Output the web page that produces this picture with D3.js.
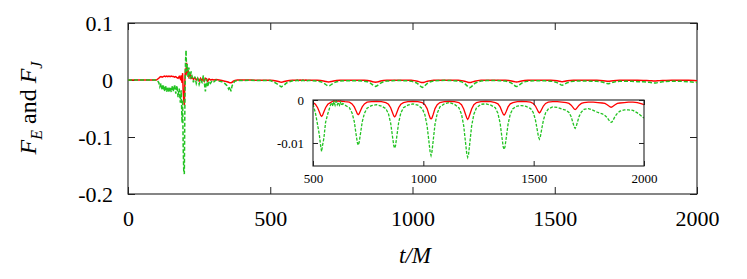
<!DOCTYPE html>
<html><head><meta charset="utf-8">
<script src="https://cdn.jsdelivr.net/npm/d3@7"></script>
<style>body{margin:0;background:#fff} svg{display:block}</style>
</head><body>
<svg id="chart" width="747" height="279"></svg>
<script>
// ---- data (t/M, F_E, F_J) ----
const times = [
  0, 50, 100, 108, 112, 116, 120, 124, 128, 132, 136, 140, 144, 148, 152, 156, 160, 164, 168, 172, 176, 180,
  184, 187, 190, 192, 194, 196, 198, 200, 202, 204, 206, 208, 211, 214, 218, 222, 226, 230,
  235, 240, 245, 250, 255, 260, 265, 268, 272, 276, 280, 285, 290, 296, 302, 310, 320, 330, 340, 348, 354, 358, 362, 366, 370, 376, 385, 400, 430, 460, 480,
  500, 511, 521, 529, 535, 539, 543, 549, 557, 567, 579, 585, 590, 595, 600, 605, 610, 615, 620, 625, 630, 635,
  645, 665, 677, 687, 695, 701, 705, 709, 715, 723, 733, 745, 765, 788,
  810, 830, 842, 852, 860, 866, 870, 874, 880, 888, 898, 910, 930, 952,
  975, 995, 1007, 1017, 1025, 1031, 1035, 1039, 1045, 1053, 1063, 1075, 1095, 1118,
  1141, 1161, 1173, 1183, 1191, 1197, 1201, 1205, 1211, 1219, 1229, 1241, 1261, 1284,
  1306, 1326, 1338, 1348, 1356, 1362, 1366, 1370, 1376, 1384, 1394, 1406, 1426, 1446,
  1466, 1486, 1498, 1508, 1516, 1522, 1526, 1530, 1536, 1544, 1554, 1566, 1586, 1607,
  1628, 1648, 1660, 1670, 1678, 1684, 1688, 1692, 1698, 1706, 1716, 1728, 1748, 1770,
  1791, 1811, 1823, 1833, 1841, 1847, 1851, 1855, 1861, 1869, 1879, 1891, 1911, 1930, 1950, 1970, 1990, 2000
];
const fluxE = [
  0, 0, 0, 0.003, 0.005, 0.006, 0.005, 0.006, 0.007, 0.006, 0.007, 0.006, 0.007, 0.006, 0.007, 0.006, 0.006, 0.005, 0.006, 0.004, 0.003, 0.006,
  0.002, 0.008, -0.005, 0.012, -0.020, -0.035, -0.044, 0.000, 0.020, 0.008, 0.030, 0.012, 0.018, 0.006, 0.010, 0.003, 0.005, 0.001,
  0.004, 0.000, 0.003, -0.002, 0.003, -0.001, 0.002, -0.002, 0.003, 0.002, -0.002, 0.002, 0.000, 0.001, 0.000, 0.001, 0.000, -0.001, -0.002, -0.003, -0.004, -0.005, -0.005, -0.004, -0.002, -0.001, 0.000, -0.0002, -0.0002, -0.0003, -0.0003,
  -0.0006, -0.0010, -0.0018, -0.0028, -0.0036, -0.0038, -0.0036, -0.0028, -0.0018, -0.0010, -0.0006, -0.0004, -0.0003, -0.0002, -0.0003, -0.0002, -0.0003, -0.0002, -0.0003, -0.0002, -0.0003, -0.0003,
  -0.0004, -0.0005, -0.0009, -0.0016, -0.0025, -0.0032, -0.0034, -0.0032, -0.0025, -0.0016, -0.0009, -0.0005, -0.0004, -0.0003,
  -0.0004, -0.0006, -0.0010, -0.0018, -0.0029, -0.0037, -0.0039, -0.0037, -0.0029, -0.0018, -0.0010, -0.0006, -0.0004, -0.0003,
  -0.0004, -0.0006, -0.0011, -0.0020, -0.0033, -0.0042, -0.0044, -0.0042, -0.0033, -0.0020, -0.0011, -0.0006, -0.0004, -0.0003,
  -0.0004, -0.0006, -0.0011, -0.0021, -0.0033, -0.0042, -0.0045, -0.0042, -0.0033, -0.0021, -0.0011, -0.0006, -0.0004, -0.0003,
  -0.0004, -0.0006, -0.0009, -0.0016, -0.0026, -0.0033, -0.0035, -0.0033, -0.0026, -0.0016, -0.0009, -0.0006, -0.0004, -0.0003,
  -0.0004, -0.0005, -0.0008, -0.0014, -0.0022, -0.0028, -0.0030, -0.0028, -0.0022, -0.0014, -0.0008, -0.0005, -0.0004, -0.0004,
  -0.0005, -0.0006, -0.0008, -0.0012, -0.0017, -0.0021, -0.0022, -0.0021, -0.0017, -0.0012, -0.0008, -0.0006, -0.0005, -0.0005,
  -0.0006, -0.0007, -0.0008, -0.0011, -0.0014, -0.0016, -0.0017, -0.0016, -0.0014, -0.0011, -0.0008, -0.0007, -0.0006, -0.0005, -0.0005, -0.0006, -0.0009, -0.0011
];
const fluxJ = [
  0, 0, 0, -0.004, -0.012, -0.006, -0.018, -0.008, -0.020, -0.010, -0.021, -0.012, -0.022, -0.012, -0.021, -0.010, -0.020, -0.008, -0.024, -0.010, -0.030, -0.015,
  -0.040, -0.018, -0.075, -0.035, -0.120, -0.160, -0.165, -0.040, 0.030, 0.052, 0.015, 0.028, 0.005, 0.022, 0.002, 0.015, 0.004, -0.004,
  0.006, -0.006, 0.002, -0.008, 0.000, -0.004, 0.008, -0.004, -0.020, 0.002, -0.012, -0.002, -0.006, -0.001, -0.003, 0.000, -0.002, -0.003, -0.006, -0.010, -0.016, -0.012, -0.020, -0.010, -0.006, -0.002, -0.001, -0.0008, -0.0006, -0.0008, -0.0007,
  -0.0010, -0.0030, -0.0058, -0.0082, -0.0108, -0.0120, -0.0106, -0.0090, -0.0052, -0.0032, -0.0012, -0.0006, -0.0014, -0.0004, -0.0012, -0.0003, -0.0011, -0.0005, -0.0012, -0.0006, -0.0013, -0.0008,
  -0.0012, -0.0018, -0.0030, -0.0050, -0.0079, -0.0099, -0.0105, -0.0099, -0.0079, -0.0051, -0.0031, -0.0019, -0.0013, -0.0011,
  -0.0014, -0.0020, -0.0032, -0.0054, -0.0084, -0.0106, -0.0112, -0.0106, -0.0084, -0.0053, -0.0030, -0.0018, -0.0012, -0.0009,
  -0.0012, -0.0020, -0.0034, -0.0060, -0.0095, -0.0122, -0.0129, -0.0121, -0.0093, -0.0056, -0.0031, -0.0016, -0.0009, -0.0006,
  -0.0010, -0.0018, -0.0033, -0.0060, -0.0098, -0.0126, -0.0133, -0.0126, -0.0098, -0.0060, -0.0033, -0.0018, -0.0010, -0.0009,
  -0.0012, -0.0018, -0.0031, -0.0054, -0.0086, -0.0109, -0.0115, -0.0109, -0.0087, -0.0056, -0.0033, -0.0020, -0.0014, -0.0013,
  -0.0015, -0.0020, -0.0029, -0.0046, -0.0069, -0.0086, -0.0091, -0.0086, -0.0069, -0.0047, -0.0030, -0.0021, -0.0016, -0.0017,
  -0.0021, -0.0024, -0.0029, -0.0039, -0.0053, -0.0063, -0.0066, -0.0063, -0.0052, -0.0038, -0.0028, -0.0022, -0.0020, -0.0024,
  -0.0029, -0.0032, -0.0036, -0.0041, -0.0047, -0.0051, -0.0052, -0.0051, -0.0046, -0.0038, -0.0031, -0.0026, -0.0023, -0.0023, -0.0024, -0.0030, -0.0038, -0.0042
];
const mainXTicks = [0, 500, 1000, 1500, 2000];
const mainYTicks = [0.1, 0, -0.1, -0.2];
const insetXTicks = [500, 1000, 1500, 2000];
const insetYTicks = [0, -0.01];

// ---- layout ----
const svg = d3.select('#chart');
const serif = '"Liberation Serif", "Times New Roman", serif';
const colE = '#ff0000', colJ = '#22c322';
const P = {l: 128, r: 697, t: 23, b: 194};
const I = {l: 313, r: 644, t: 100, b: 166};

const x = d3.scaleLinear().domain([0, 2000]).range([P.l, P.r]);
const y = d3.scaleLinear().domain([-0.2, 0.1]).range([P.b, P.t]);
const xi = d3.scaleLinear().domain([500, 2000]).range([I.l, I.r]);
const yi = d3.scaleLinear().domain([-0.01535, 0]).range([I.b, I.t]);

const pts = times.map((t, i) => ({t, e: fluxE[i], j: fluxJ[i]}));
const fmt = d => String(+d.toFixed(3));

const defs = svg.append('defs');
defs.append('clipPath').attr('id', 'clipMain').append('rect')
  .attr('x', P.l).attr('y', P.t).attr('width', P.r - P.l).attr('height', P.b - P.t);
defs.append('clipPath').attr('id', 'clipInset').append('rect')
  .attr('x', I.l).attr('y', I.t).attr('width', I.r - I.l).attr('height', I.b - I.t);

function axes(g, xs, ys, box, xt, yt, tick, fs, padX, padY) {
  const ax = g.append('g').attr('font-family', serif);
  const bottom = ax.append('g').attr('transform', `translate(0,${box.b})`)
    .call(d3.axisBottom(xs).tickValues(xt).tickSize(-tick).tickPadding(padX).tickFormat(fmt));
  const top = ax.append('g').attr('transform', `translate(0,${box.t})`)
    .call(d3.axisTop(xs).tickValues(xt).tickSize(-tick).tickFormat(''));
  const left = ax.append('g').attr('transform', `translate(${box.l},0)`)
    .call(d3.axisLeft(ys).tickValues(yt).tickSize(-tick).tickPadding(padY).tickFormat(fmt));
  const right = ax.append('g').attr('transform', `translate(${box.r},0)`)
    .call(d3.axisRight(ys).tickValues(yt).tickSize(-tick).tickFormat(''));
  [bottom, top, left, right].forEach(s => {
    s.select('.domain').remove();
    s.selectAll('line').attr('stroke', '#222').attr('stroke-width', 1);
    s.selectAll('text').attr('font-size', fs).attr('fill', '#000').attr('font-family', serif);
  });
  g.append('rect').attr('x', box.l).attr('y', box.t)
    .attr('width', box.r - box.l).attr('height', box.b - box.t)
    .attr('fill', 'none').attr('stroke', '#222').attr('stroke-width', 1.1);
}

// main plot
const main = svg.append('g');
axes(main, x, y, P, mainXTicks, mainYTicks, 7, 22, 16, 15);

const lineMain = k => d3.line().x(d => x(d.t)).y(d => y(d[k]));
main.append('path').datum(pts).attr('clip-path', 'url(#clipMain)')
  .attr('d', lineMain('e')).attr('fill', 'none').attr('stroke', colE).attr('stroke-width', 1.5);
main.append('path').datum(pts).attr('clip-path', 'url(#clipMain)')
  .attr('d', lineMain('j')).attr('fill', 'none').attr('stroke', colJ).attr('stroke-width', 1.5)
  .attr('stroke-dasharray', '4,2');

// inset
const inset = svg.append('g');
inset.append('rect').attr('x', I.l).attr('y', I.t).attr('width', I.r - I.l).attr('height', I.b - I.t).attr('fill', '#fff');
const ipts = pts.filter(d => d.t >= 500);
const lineIn = k => d3.line().x(d => xi(d.t)).y(d => yi(d[k]));
inset.append('path').datum(ipts).attr('clip-path', 'url(#clipInset)')
  .attr('d', lineIn('e')).attr('fill', 'none').attr('stroke', colE).attr('stroke-width', 1.3);
inset.append('path').datum(ipts).attr('clip-path', 'url(#clipInset)')
  .attr('d', lineIn('j')).attr('fill', 'none').attr('stroke', colJ).attr('stroke-width', 1.3)
  .attr('stroke-dasharray', '3,1.5');
axes(inset, xi, yi, I, insetXTicks, insetYTicks, 5, 13, 8, 9);

// axis titles
const xt = svg.append('text').attr('x', 415).attr('y', 263).attr('text-anchor', 'middle')
  .attr('font-family', serif).attr('font-size', 23).attr('font-style', 'italic').text('t/M');

const yt = svg.append('text').attr('transform', 'translate(36,108) rotate(-90)')
  .attr('text-anchor', 'middle').attr('font-family', serif).attr('font-size', 24);
yt.append('tspan').attr('font-style', 'italic').text('F');
yt.append('tspan').attr('font-style', 'italic').attr('font-size', 16).attr('dy', 6).text('E');
yt.append('tspan').attr('dy', -6).text(' and ');
yt.append('tspan').attr('font-style', 'italic').text('F');
yt.append('tspan').attr('font-style', 'italic').attr('font-size', 16).attr('dy', 6).text('J');
</script>
</body></html>
